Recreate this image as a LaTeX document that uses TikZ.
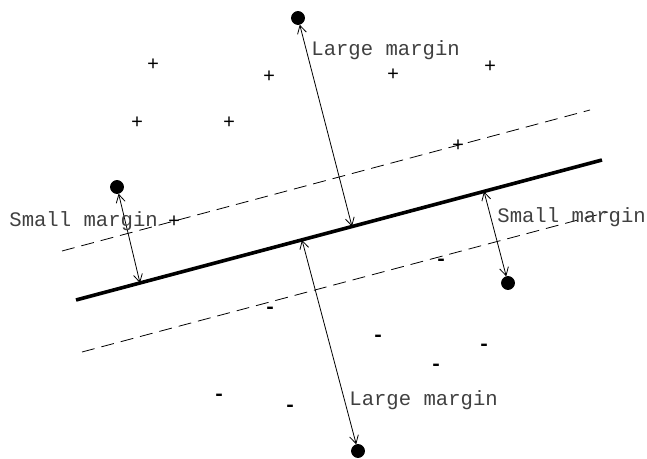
\documentclass[tikz,border=0pt]{standalone}
\usepackage{fontspec}
\setmonofont{Liberation Mono}
\usetikzlibrary{arrows.meta}
\begin{document}
\begin{tikzpicture}
[
    x=0.5pt, y=-0.5pt,
    point/.style={draw, circle, fill, inner sep=0pt, minimum size=6.5pt},
    sign/.style={font=\ttfamily\fontsize{10}{12}\selectfont, inner sep=0pt},
    label/.style={font=\ttfamily\fontsize{10.3}{12}\selectfont, text=black!75, inner sep=0pt, anchor=west},
    margin/.style={thin, {Straight Barb[length=4pt,width=4.5pt]}-{Straight Barb[length=4pt,width=4.5pt]}},
    border/.style={thin, dash pattern=on 6.5pt off 3.5pt}
]
    \useasboundingbox (0,0) rectangle (647,459);

    % separating line and margins
    \draw [line width=1.8pt] (76,300) coordinate (s1) -- (602,160) coordinate (s2);
    \draw [border] (62,251) coordinate (u1) -- (590,110) coordinate (u2);
    \draw [border] (82,352) coordinate (l1) -- (608,212) coordinate (l2);

    % support points
    \node [point] (top) at (298,18) {};
    \node [point] (left) at (117,187) {};
    \node [point] (right) at (508,283) {};
    \node [point] (bottom) at (358,451) {};

    % feet on the line
    \coordinate (ftop) at (352,226.5);
    \coordinate (fleft) at (140,283);
    \coordinate (fright) at (484,191.5);
    \coordinate (fbottom) at (302,240);

    \draw [margin] (top) -- (ftop);
    \draw [margin] (left) -- (fleft);
    \draw [margin] (fright) -- (right);
    \draw [margin] (fbottom) -- (bottom);

    % labels
    \node [label] (ltop) at (311,50) {Large margin};
    \node [label] (lleft) at (9,221) {Small margin};
    \node [label] (lright) at (497,217) {Small margin};
    \node [label] (lbottom) at (349,400) {Large margin};

    % positive samples
    \foreach \x/\y [count=\i] in {153/65, 269/77, 393/75, 490/67, 137/123, 229/123, 458/146, 174/222}
        \node [sign] (p\i) at (\x,\y) {+};

    % negative samples
    \foreach \x/\y [count=\i] in {441/262, 270/310, 378/338, 484/347, 436/367, 219/397, 290/408}
        \node [sign, font=\bfseries\ttfamily\fontsize{10}{12}\selectfont] (n\i) at (\x,\y) {-};
\end{tikzpicture}
\end{document}
